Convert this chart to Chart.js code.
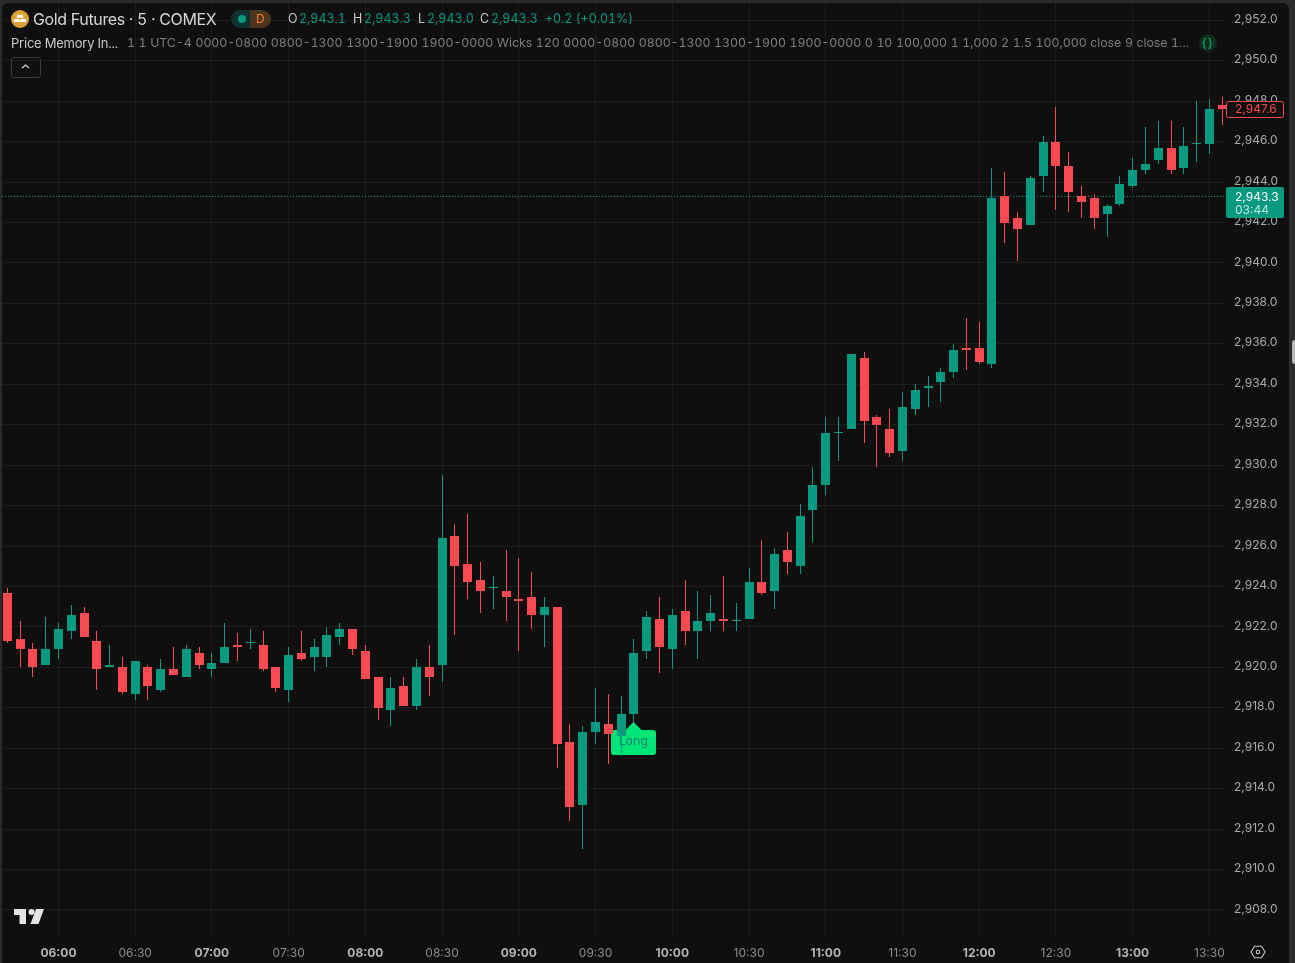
<!DOCTYPE html>
<html>
<head>
<meta charset="utf-8">
<title>Gold Futures 5</title>
<script src="https://cdn.jsdelivr.net/npm/chart.js@4"></script>
<style>
  html, body { margin: 0; padding: 0; width: 1295px; height: 963px; overflow: hidden; background: #2b2b2b; }
  #panel { position: absolute; left: 2px; top: 3px; width: 1287px; height: 960px; background: #0f0f0f; border-radius: 6px 6px 0 0; }
  canvas { position: absolute; left: 0; top: 0; }
  .txt { position: absolute; font-family: Inter, sans-serif; white-space: nowrap; line-height: 16px; font-variant-numeric: tabular-nums; }
  .up { color: #089981; font-size: 12.4px; }
  .lbl { color: #c8c8c8; font-size: 12.4px; }
  .grip { position: absolute; left: 1292px; top: 340px; width: 3px; height: 24px; background: #b8b8b8; border-radius: 3px 0 0 3px; }
</style>
</head>
<body>
<div id="panel"></div>
<canvas id="grafico" width="1295" height="963"></canvas>
<div class="grip"></div>

<!-- cabecera -->
<svg style="position:absolute;left:11px;top:10px" width="18" height="18" viewBox="0 0 18 18">
  <circle cx="9" cy="9" r="9" fill="#dba334"/>
  <path d="M6.6 4.8h4.8l1 2.9H5.6z M3.4 9h4.8l1 3H2.4z M9.8 9h4.8l1 3h-6.8z" fill="#fff"/>
</svg>
<div class="txt" style="left:33px;top:11px;font-size:16px;color:#d6d6d6;letter-spacing:-0.35px">Gold Futures · 5 · COMEX</div>
<div style="position:absolute;left:231px;top:10px;width:19px;height:18px;background:#0f3230;border-radius:9px 0 0 9px"></div>
<div style="position:absolute;left:250px;top:10px;width:21px;height:18px;background:#4d351c;border-radius:0 9px 9px 0"></div>
<div style="position:absolute;left:238px;top:15px;width:8px;height:8px;border-radius:50%;background:#089981"></div>
<div class="txt" style="left:256px;top:11px;font-size:12px;color:#f57c1f">D</div>
<div class="txt lbl" style="left:288px;top:11px">O</div>
<div class="txt up" style="left:299px;top:11px">2,943.1</div>
<div class="txt lbl" style="left:353px;top:11px">H</div>
<div class="txt up" style="left:364px;top:11px">2,943.3</div>
<div class="txt lbl" style="left:418px;top:11px">L</div>
<div class="txt up" style="left:427px;top:11px">2,943.0</div>
<div class="txt lbl" style="left:480px;top:11px">C</div>
<div class="txt up" style="left:491px;top:11px">2,943.3</div>
<div class="txt up" style="left:545px;top:11px">+0.2 (+0.01%)</div>
<div class="txt" style="left:11px;top:35px;font-size:13px;color:#c8c8c8;letter-spacing:-0.22px">Price Memory In...</div>
<div class="txt" style="left:127px;top:35px;font-size:12.3px;color:#7e7e7e;word-spacing:0.3px">1 1 UTC-4 0000-0800 0800-1300 1300-1900 1900-0000 Wicks 120 0000-0800 0800-1300 1300-1900 1900-0000 0 10 100,000 1 1,000 2 1.5 100,000 close 9 close 1...</div>
<div style="position:absolute;left:1199px;top:34px;width:18px;height:18px;border-radius:50%;background:#0f2a1e"></div>
<div class="txt" style="left:1202px;top:35px;font-size:12px;font-weight:600;color:#0a9f50;letter-spacing:1px">{}</div>
<div style="position:absolute;left:11px;top:57px;width:28px;height:19px;border:1px solid #3a3a3a;border-radius:3px"></div>
<svg style="position:absolute;left:20px;top:63px" width="11" height="7" viewBox="0 0 11 7">
  <path d="M2 5 L5.5 2 L9 5" fill="none" stroke="#d6d6d6" stroke-width="1.3"/>
</svg>

<!-- logo y ajustes -->
<svg style="position:absolute;left:14px;top:909px" width="30" height="15" viewBox="0 0 30 15">
  <path d="M0 0H12V15H5.5V6H0Z M22 0H30L24.5 15H16.5Z" fill="#e4e4e4"/>
  <circle cx="17.5" cy="3" r="3" fill="#e4e4e4"/>
</svg>
<svg style="position:absolute;left:1250px;top:944px" width="16" height="16" viewBox="0 0 16 16">
  <path d="M4.5 2.2h7L15 8l-3.5 5.8h-7L1 8z" fill="none" stroke="#c4c4c4" stroke-width="1.1"/>
  <circle cx="8" cy="8" r="1.7" fill="none" stroke="#c4c4c4" stroke-width="1.1"/>
</svg>

<script>
// Velas de 5 minutos
const times = [
  '05:40','05:45','05:50','05:55','06:00','06:05','06:10','06:15','06:20','06:25','06:30','06:35',
  '06:40','06:45','06:50','06:55','07:00','07:05','07:10','07:15','07:20','07:25','07:30','07:35',
  '07:40','07:45','07:50','07:55','08:00','08:05','08:10','08:15','08:20','08:25','08:30','08:35',
  '08:40','08:45','08:50','08:55','09:00','09:05','09:10','09:15','09:20','09:25','09:30','09:35',
  '09:40','09:45','09:50','09:55','10:00','10:05','10:10','10:15','10:20','10:25','10:30','10:35',
  '10:40','10:45','10:50','10:55','11:00','11:05','11:10','11:15','11:20','11:25','11:30','11:35',
  '11:40','11:45','11:50','11:55','12:00','12:05','12:10','12:15','12:20','12:25','12:30','12:35',
  '12:40','12:45','12:50','12:55','13:00','13:05','13:10','13:15','13:20','13:25','13:30','13:35'
];
const opens = [
  2923.7,2921.4,2920.9,2920.1,2920.9,2921.8,2922.7,2921.3,2920.0,2920.0,2918.7,2920.0,
  2918.9,2919.9,2919.5,2920.7,2919.9,2920.2,2921.1,2921.2,2921.1,2920.0,2918.9,2920.7,
  2920.5,2920.5,2921.5,2921.9,2920.8,2919.5,2917.9,2919.1,2918.1,2920.0,2920.1,2926.5,
  2925.1,2924.3,2923.9,2923.8,2923.4,2923.5,2922.6,2923.0,2916.3,2913.2,2916.8,2917.2,
  2916.6,2917.7,2920.8,2922.4,2920.9,2922.8,2921.8,2922.3,2922.4,2922.3,2922.4,2924.2,
  2923.8,2925.8,2925.0,2927.8,2929.0,2931.6,2931.8,2935.3,2932.4,2931.8,2930.7,2932.8,
  2933.8,2934.1,2934.6,2935.8,2935.8,2935.0,2943.3,2942.2,2941.9,2944.3,2946.0,2944.8,
  2943.3,2943.2,2942.4,2942.9,2943.8,2944.6,2945.1,2945.7,2944.7,2945.9,2945.9,2947.8
];
const highs = [
  2923.9,2922.3,2921.2,2922.5,2922.2,2923.1,2923.0,2921.8,2921.1,2920.5,2920.3,2920.1,
  2920.4,2921.0,2921.1,2921.0,2920.7,2922.2,2921.7,2921.9,2921.8,2920.0,2921.0,2921.8,
  2921.4,2922.0,2922.2,2921.9,2921.1,2919.5,2919.5,2919.5,2920.4,2921.1,2929.5,2927.1,
  2927.6,2925.2,2924.5,2925.8,2925.4,2924.7,2923.5,2923.0,2917.2,2917.1,2919.0,2918.7,
  2918.6,2921.4,2922.8,2923.5,2922.9,2924.3,2923.8,2923.6,2924.5,2923.2,2924.9,2926.3,
  2925.9,2926.7,2928.1,2929.9,2932.4,2932.4,2935.5,2935.6,2932.5,2932.8,2933.6,2934.0,
  2934.4,2934.8,2936.0,2937.3,2937.1,2944.7,2944.5,2942.5,2944.3,2946.3,2947.7,2945.5,
  2943.8,2943.4,2942.9,2944.3,2945.2,2946.7,2947.0,2947.0,2946.7,2948.0,2948.1,2948.2
];
const lows = [
  2921.2,2920.0,2919.5,2920.1,2920.4,2921.4,2921.5,2918.9,2920.0,2918.7,2918.4,2918.4,
  2918.8,2919.6,2919.5,2919.9,2919.5,2920.2,2920.3,2920.9,2919.8,2918.8,2918.3,2920.3,
  2919.8,2920.0,2921.1,2920.6,2919.4,2917.4,2917.1,2918.1,2917.9,2918.6,2919.3,2921.6,
  2923.4,2922.7,2922.9,2922.3,2920.8,2921.9,2921.0,2915.0,2912.4,2911.0,2916.2,2915.2,
  2915.6,2917.3,2920.4,2919.7,2919.9,2921.1,2920.4,2921.8,2921.8,2921.8,2922.4,2923.6,
  2922.9,2924.6,2924.6,2926.2,2928.5,2930.2,2931.8,2931.1,2929.9,2930.4,2930.2,2932.5,
  2932.9,2933.1,2934.3,2934.7,2935.0,2934.8,2941.0,2940.1,2941.9,2943.5,2942.6,2942.5,
  2942.2,2941.7,2941.3,2942.8,2943.7,2944.4,2944.9,2944.4,2944.4,2945.0,2945.4,2946.8
];
const closes = [
  2921.3,2920.9,2920.0,2920.9,2921.9,2922.6,2921.5,2919.9,2920.1,2918.8,2920.3,2919.1,
  2919.9,2919.6,2920.9,2920.1,2920.2,2921.0,2921.0,2921.2,2919.9,2919.0,2920.6,2920.4,
  2921.0,2921.6,2921.9,2920.9,2919.4,2918.0,2919.0,2918.1,2920.0,2919.5,2926.4,2925.0,
  2924.2,2923.8,2923.9,2923.5,2923.3,2922.6,2923.0,2916.2,2913.1,2916.8,2917.3,2916.7,
  2917.7,2920.7,2922.5,2921.0,2922.6,2921.8,2922.3,2922.7,2922.3,2922.3,2924.2,2923.7,
  2925.6,2925.2,2927.5,2929.0,2931.6,2931.6,2935.5,2932.2,2932.0,2930.6,2932.9,2933.7,
  2933.9,2934.6,2935.7,2935.7,2935.1,2943.2,2942.0,2941.7,2944.2,2946.0,2944.8,2943.5,
  2943.0,2942.2,2942.8,2943.9,2944.6,2944.9,2945.7,2944.6,2945.8,2945.9,2947.6,2947.6
];
const priceTicks = [2952,2950,2948,2946,2944,2942,2940,2938,2936,2934,2932,2930,2928,2926,2924,2922,2920,2918,2916,2914,2912,2910,2908];
const timeTicks = ['06:00','06:30','07:00','07:30','08:00','08:30','09:00','09:30','10:00','10:30','11:00','11:30','12:00','12:30','13:00','13:30'];
const lastClose = 2943.3;
const lastPrice = 2947.6;
const countdown = '03:44';
const longAt = '09:45';

const COLOR_UP = '#089981';
const COLOR_DOWN = '#f84a50';
const GRID = 'rgba(242,242,242,0.06)';

const colorVela = i => closes[i] >= opens[i] ? COLOR_UP : COLOR_DOWN;
const precio = v => v.toLocaleString('en-US', { minimumFractionDigits: 1, maximumFractionDigits: 1 });
const esHora = c => c.tick && times[c.tick.value].endsWith(':00');

// Ajusta las velas al pixel para que salgan nitidas
function alinearVelas(chart) {
  chart.getSortedVisibleDatasetMetas().forEach(meta => {
    meta.data.forEach(el => {
      el.x = Math.floor(el.x) + 0.5;
      el.y = Math.round(el.y);
      el.base = Math.round(el.base);
      if (el.y === el.base) el.y -= 1;
    });
  });
}

// Linea punteada y etiqueta Long, debajo de las velas
const capaFondo = {
  id: 'capaFondo',
  beforeDraw(chart) {
    // Los numeros del eje de precios van un pixel por encima de su linea
    chart.scales.y.getLabelItems().forEach(item => { item.options.translation[1] -= 1; });
  },
  beforeDatasetsDraw(chart) {
    alinearVelas(chart);
    const { ctx, chartArea, scales } = chart;
    const y = Math.round(scales.y.getPixelForValue(lastClose));
    ctx.save();
    ctx.strokeStyle = COLOR_UP;
    ctx.setLineDash([1, 2]);
    ctx.beginPath();
    ctx.moveTo(chartArea.left, y + 0.5);
    ctx.lineTo(chartArea.right, y + 0.5);
    ctx.stroke();
    ctx.setLineDash([]);

    const i = times.indexOf(longAt);
    const cx = Math.floor(scales.x.getPixelForValue(i)) + 0.5;
    const tip = Math.round(scales.y.getPixelForValue(lows[i]));
    ctx.fillStyle = '#00e676';
    ctx.beginPath();
    ctx.moveTo(cx, tip);
    ctx.lineTo(cx + 8, tip + 8);
    ctx.lineTo(cx - 8, tip + 8);
    ctx.closePath();
    ctx.fill();
    ctx.beginPath();
    ctx.roundRect(cx - 22.5, tip + 8, 45, 25, 3);
    ctx.fill();
    ctx.fillStyle = '#14806a';
    ctx.font = '12px "DejaVu Sans"';
    ctx.textAlign = 'center';
    ctx.textBaseline = 'middle';
    ctx.fillText('Long', cx, tip + 20);
    ctx.restore();
  }
};

// Etiquetas de precio sobre el eje derecho
const capaEtiquetas = {
  id: 'capaEtiquetas',
  afterDraw(chart) {
    const { ctx, chartArea, scales } = chart;
    const x = chartArea.right;
    const yRojo = Math.round(scales.y.getPixelForValue(lastPrice));
    const yVerde = Math.round(scales.y.getPixelForValue(lastClose));
    ctx.save();
    ctx.font = '12px Inter';
    ctx.textBaseline = 'middle';

    ctx.fillStyle = '#0f0f0f';
    ctx.strokeStyle = COLOR_DOWN;
    ctx.beginPath();
    ctx.roundRect(x + 0.5, yRojo - 7.5, 57, 16, 2);
    ctx.fill();
    ctx.stroke();
    ctx.fillStyle = COLOR_DOWN;
    ctx.fillText(precio(lastPrice), x + 9, yRojo);

    ctx.fillStyle = COLOR_UP;
    ctx.beginPath();
    ctx.roundRect(x, yVerde - 9, 58, 31, 2);
    ctx.fill();
    ctx.fillStyle = '#ffffff';
    ctx.fillText(precio(lastClose), x + 9, yVerde + 1);
    ctx.fillStyle = '#c4e6df';
    ctx.fillText(countdown, x + 9, yVerde + 14);
    ctx.restore();
  }
};

new Chart(document.getElementById('grafico'), {
  type: 'bar',
  data: {
    labels: times,
    datasets: [
      {
        label: 'Mechas',
        data: times.map((t, i) => ({ x: i, y: [lows[i], highs[i]] })),
        backgroundColor: times.map((t, i) => colorVela(i)),
        barThickness: 1,
        inflateAmount: 0,
        grouped: false,
        order: 2
      },
      {
        label: 'Cuerpos',
        data: times.map((t, i) => ({ x: i, y: [opens[i], closes[i]] })),
        backgroundColor: times.map((t, i) => colorVela(i)),
        barThickness: 9,
        inflateAmount: 0,
        minBarLength: 1,
        grouped: false,
        order: 1
      }
    ]
  },
  options: {
    responsive: false,
    animation: false,
    events: [],
    layout: { padding: { left: 2, top: 3 } },
    plugins: { legend: { display: false }, tooltip: { enabled: false } },
    scales: {
      x: {
        type: 'linear',
        offset: false,
        min: -0.414,
        max: 95.3,
        border: { display: false },
        grid: { color: GRID, offset: false, drawTicks: false },
        afterBuildTicks(axis) { axis.ticks = timeTicks.map(t => ({ value: times.indexOf(t) })); },
        afterFit(axis) { axis.height = 25; axis.paddingLeft = 0; axis.paddingRight = 0; },
        ticks: {
          autoSkip: false,
          maxRotation: 0,
          padding: 8,
          callback: v => times[v],
          color: c => esHora(c) ? '#b4b4b4' : '#8c8c8c',
          font: c => ({ family: 'Inter', size: 12, weight: esHora(c) ? '700' : '400' })
        }
      },
      y: {
        position: 'right',
        min: 2906.615,
        max: 2952.856,
        border: { display: false },
        grid: { color: GRID, drawTicks: false },
        afterBuildTicks(axis) { axis.ticks = priceTicks.map(v => ({ value: v })); },
        afterFit(axis) { axis.width = 69; axis.paddingTop = 0; axis.paddingBottom = 0; },
        ticks: {
          padding: 8,
          callback: v => precio(v),
          color: '#a9a9a9',
          font: { family: 'Inter', size: 12 }
        }
      }
    }
  },
  plugins: [capaFondo, capaEtiquetas]
});
</script>
</body>
</html>
